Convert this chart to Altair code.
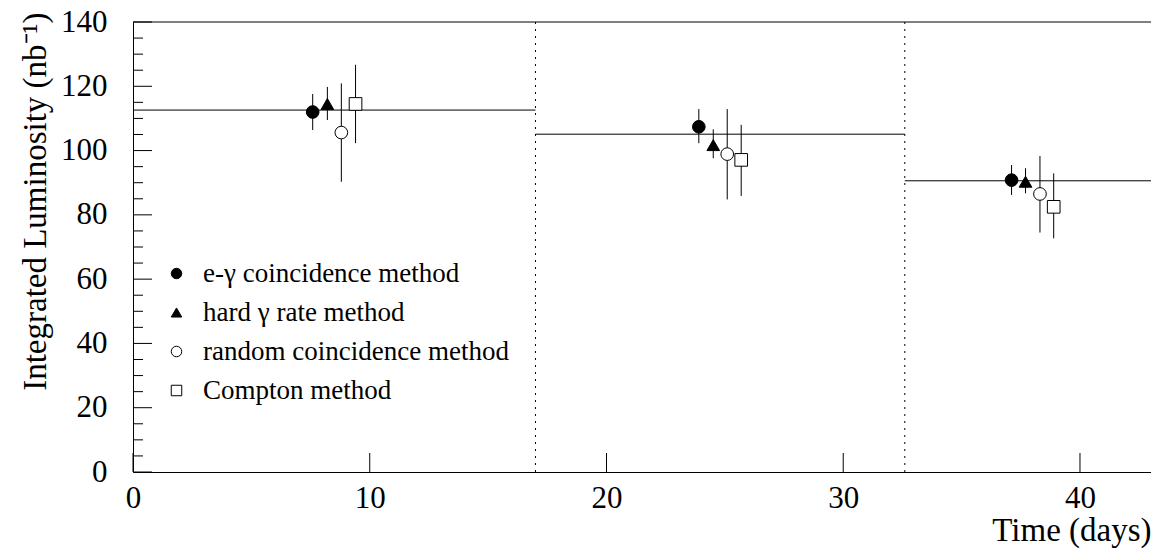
import altair as alt
import pandas as pd

# ---------------- data ----------------
methods = ["e-γ coincidence method", "hard γ rate method",
           "random coincidence method", "Compton method"]

ecoin_time = [7.59, 23.90, 37.11]
ecoin_lumi = [112.0, 107.4, 90.8]
ecoin_low = [106.4, 102.3, 86.2]
ecoin_high = [117.6, 112.9, 95.5]

hard_time = [8.21, 24.51, 37.70]
hard_lumi = [114.5, 101.7, 90.3]
hard_low = [109.5, 97.6, 86.7]
hard_high = [119.8, 106.6, 94.5]

random_time = [8.80, 25.10, 38.31]
random_lumi = [105.6, 98.9, 86.5]
random_low = [90.3, 84.8, 74.5]
random_high = [120.9, 112.9, 98.3]

compton_time = [9.40, 25.69, 38.89]
compton_lumi = [114.5, 97.1, 82.5]
compton_low = [102.3, 85.9, 72.7]
compton_high = [126.7, 108.0, 92.9]

period_start = [0.0, 17.0, 32.6]
period_end = [17.0, 32.6, 43.0]
period_mean = [112.6, 105.1, 90.6]
period_boundaries = [17.0, 32.6]

x_ticks = [0, 10, 20, 30, 40]
y_ticks = [0, 20, 40, 60, 80, 100, 120, 140]
y_minor = [v for v in range(0, 141, 5) if v % 20 != 0]

X_MAX = 43.0
Y_MAX = 140
W, H = 1018, 450
FONT = "Liberation Serif"
X_TITLE = "Time (days)"
Y_TITLE = "Integrated Luminosity (nb⁻¹)"

# ---------------- tables ----------------
rows = []
for m, t, v, lo, hi in zip(
        methods,
        [ecoin_time, hard_time, random_time, compton_time],
        [ecoin_lumi, hard_lumi, random_lumi, compton_lumi],
        [ecoin_low, hard_low, random_low, compton_low],
        [ecoin_high, hard_high, random_high, compton_high]):
    for i in range(len(t)):
        rows.append({"method": m, "time": t[i], "lumi": v[i], "low": lo[i], "high": hi[i]})
df = pd.DataFrame(rows)

seg_df = pd.DataFrame({"start": period_start, "end": period_end, "mean": period_mean})
bnd_df = pd.DataFrame({"b": period_boundaries})
top_df = pd.DataFrame({"x0": [0.0], "x1": [X_MAX], "y": [Y_MAX]})
xt_df = pd.DataFrame({"v": x_ticks})
yt_df = pd.DataFrame({"v": y_ticks})
ym_df = pd.DataFrame({"v": y_minor})

xs = alt.Scale(domain=[0, X_MAX], nice=False, zero=False)
ys = alt.Scale(domain=[0, Y_MAX], nice=False, zero=False)

x_axis = alt.Axis(values=x_ticks, format="d", ticks=False, tickSize=0, grid=False,
                  domainColor="black", domainWidth=1,
                  labelFont=FONT, labelFontSize=31, labelColor="black",
                  labelPadding=11, labelFlush=False, labelOverlap=False,
                  titleFont=FONT, titleFontSize=33, titleFontWeight="normal",
                  titleColor="black", titleX=W, titleY=68, titleAlign="right",
                  titleBaseline="alphabetic")
y_axis = alt.Axis(values=y_ticks, format="d", ticks=False, tickSize=0, grid=False,
                  domainColor="black", domainWidth=1,
                  labelFont=FONT, labelFontSize=31, labelColor="black",
                  labelPadding=26, labelFlush=False, labelOverlap=False,
                  titleFont=FONT, titleFontSize=33, titleFontWeight="normal",
                  titleColor="black", titleAngle=270, titleX=-88, titleY=-10,
                  titleAlign="right", titleBaseline="alphabetic")


def X(field):
    return alt.X(field, scale=xs, axis=x_axis, title=X_TITLE)


def Y(field):
    return alt.Y(field, scale=ys, axis=y_axis, title=Y_TITLE)


# error bars
errors = alt.Chart(df).mark_rule(color="black", strokeWidth=1).encode(
    x=X("time:Q"), y=Y("low:Q"), y2="high:Q",
)

segments = alt.Chart(seg_df).mark_rule(color="black", strokeWidth=1).encode(
    x=X("start:Q"), x2="end:Q", y=Y("mean:Q"),
)

boundaries = alt.Chart(bnd_df).mark_rule(color="black", strokeWidth=1, strokeDash=[2, 5]).encode(
    x=X("b:Q"), y=alt.value(0), y2=alt.value(H),
)

top_border = alt.Chart(top_df).mark_rule(color="black", strokeWidth=1).encode(
    x=X("x0:Q"), x2="x1:Q", y=Y("y:Q"),
)

x_major = alt.Chart(xt_df).mark_rule(color="black", strokeWidth=1).encode(
    x=X("v:Q"), y=alt.value(H), y2=alt.value(H - 19),
)
y_major = alt.Chart(yt_df).mark_rule(color="black", strokeWidth=1).encode(
    y=Y("v:Q"), x=alt.value(0), x2=alt.value(19),
)
y_minor_ticks = alt.Chart(ym_df).mark_rule(color="black", strokeWidth=1).encode(
    y=Y("v:Q"), x=alt.value(0), x2=alt.value(10),
)

leg = alt.Legend(title=None, orient="none", legendX=30, legendY=238, padding=0,
                 labelFont=FONT, labelFontSize=27, labelColor="black", labelLimit=0,
                 labelOffset=13, rowPadding=11, symbolSize=110,
                 symbolStrokeWidth=1, symbolOpacity=1)

points = alt.Chart(df).mark_point(filled=True, size=160, strokeWidth=1, opacity=1).encode(
    x=X("time:Q"),
    y=Y("lumi:Q"),
    shape=alt.Shape("method:N", scale=alt.Scale(
        domain=methods, range=["circle", "triangle-up", "circle", "square"]), legend=leg),
    fill=alt.Fill("method:N", scale=alt.Scale(
        domain=methods, range=["black", "black", "white", "white"]), legend=leg),
    stroke=alt.Stroke("method:N", scale=alt.Scale(
        domain=methods, range=["black", "black", "black", "black"]), legend=leg),
)

chart = alt.layer(
    errors, segments, boundaries, top_border, x_major, y_major, y_minor_ticks, points
).properties(
    width=W, height=H,
    padding={"left": 125, "top": 14, "right": 0, "bottom": 76},
    autosize=alt.AutoSizeParams(type="none"),
    background="white",
).configure_view(stroke=None)

chart.save("out.html", embed_options={"renderer": "svg", "actions": False})
